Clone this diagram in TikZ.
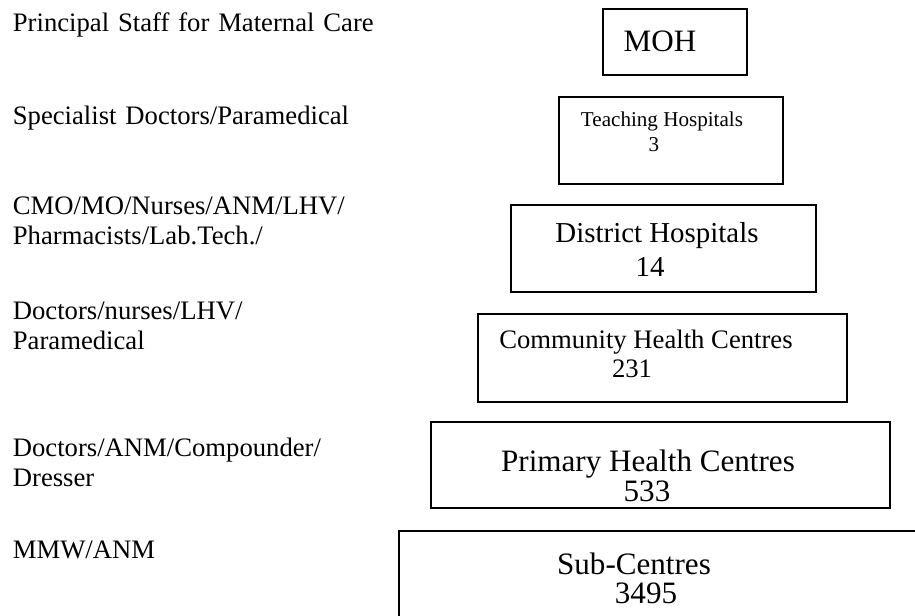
\documentclass[tikz,border=0pt]{standalone}
\usepackage{fontspec}
\setmainfont{Liberation Serif}

\begin{document}
\begin{tikzpicture}[x=0.45pt, y={(0pt,-0.45pt)}, line width=0.8pt, line cap=rect, line join=miter,
    staff/.style={anchor=base west, inner sep=0pt, align=left, text width=220pt, font=\fontsize{12}{13.5}\selectfont},
    tier/.style={anchor=base, inner sep=0pt}]
    \useasboundingbox (0,0) rectangle (915,616);
    \clip (0,0) rectangle (915,616);
    % tier boxes
    \draw (603,9) rectangle (747,75);
    \draw (559,97) rectangle (783,184);
    \draw (511,205) rectangle (816,292);
    \draw (478,314) rectangle (847,402);
    \draw (431,422) rectangle (890,508);
    \draw (399,630) -- (399,531) -- (930,531);
    % tier names and counts
    \draw (660,52) node[tier, font=\fontsize{14}{16}\selectfont] (moh) {MOH};
    \draw (662,127) node[tier, font=\fontsize{9.5}{11}\selectfont] (teach) {Teaching Hospitals};
    \draw (654,152) node[tier, font=\fontsize{9.5}{11}\selectfont] (teachn) {3};
    \draw (657,243) node[tier, font=\fontsize{13}{15}\selectfont] (dist) {District Hospitals};
    \draw (650,277) node[tier, font=\fontsize{13}{15}\selectfont] (distn) {14};
    \draw (646,349) node[tier, font=\fontsize{12}{14}\selectfont] (chc) {Community Health Centres};
    \draw (632,378) node[tier, font=\fontsize{12}{14}\selectfont] (chcn) {231};
    \draw (648,472) node[tier, font=\fontsize{14}{16}\selectfont] (phc) {Primary Health Centres};
    \draw (647,502) node[tier, font=\fontsize{14}{16}\selectfont] (phcn) {533};
    \draw (634,574) node[tier, font=\fontsize{14}{16}\selectfont] (sc) {Sub-Centres};
    \draw (646,604) node[tier, font=\fontsize{14}{16}\selectfont] (scn) {3495};
    % staff at each tier
    \draw (12,32) node[staff] (mohstaff) {Principal Staff for Maternal Care};
    \draw (12,125) node[staff] (teachstaff) {Specialist Doctors/Paramedical};
    \draw (12,215) node[staff] (diststaff) {CMO/MO/Nurses/ANM/LHV/\\Pharmacists/Lab.Tech./};
    \draw (12,320) node[staff] (chcstaff) {Doctors/nurses/LHV/\\Paramedical};
    \draw (12,457) node[staff] (phcstaff) {Doctors/ANM/Compounder/\\Dresser};
    \draw (12,559) node[staff] (scstaff) {MMW/ANM};
\end{tikzpicture}
\end{document}
